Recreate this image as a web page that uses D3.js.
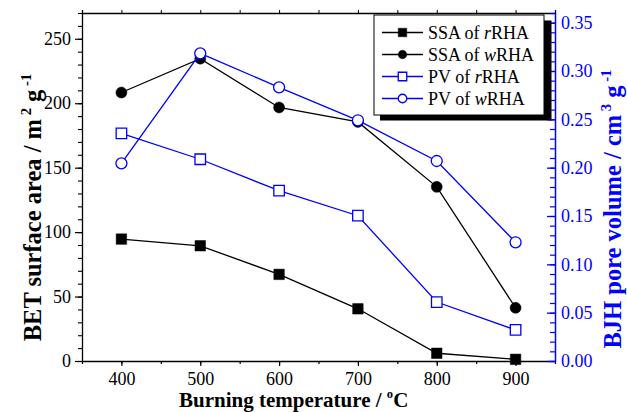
<!DOCTYPE html>
<html>
<head>
<meta charset="utf-8">
<script src="https://cdn.jsdelivr.net/npm/d3@7"></script>
<style>
  html, body { margin: 0; padding: 0; background: #fff; }
  svg { display: block; font-family: "Liberation Serif", "Times New Roman", serif; }
</style>
</head>
<body>
<svg id="chart" width="627" height="412"></svg>
<script>
// Data
const temperatures = [400, 500, 600, 700, 800, 900];
const ssaR = [94.6, 89.4, 67.2, 40.5, 6.0, 1.3];       // m2/g
const ssaW = [208.3, 234.6, 196.7, 185.5, 135.1, 41.3];
const pvR = [0.2355, 0.2087, 0.1762, 0.1503, 0.0610, 0.0321]; // cm3/g
const pvW = [0.2045, 0.3183, 0.2831, 0.2490, 0.2069, 0.1228];

const xTicks = [400, 500, 600, 700, 800, 900];
const leftTicks = [0, 50, 100, 150, 200, 250];
const rightTicks = [0, 0.05, 0.10, 0.15, 0.20, 0.25, 0.30, 0.35];

const seriesDefs = [
    { name: "SSA of ", ital: "r", tail: "RHA", values: ssaR, axis: "left", shape: "square", filled: true, color: "#000" },
    { name: "SSA of ", ital: "w", tail: "RHA", values: ssaW, axis: "left", shape: "circle", filled: true, color: "#000" },
    { name: "PV of ", ital: "r", tail: "RHA", values: pvR, axis: "right", shape: "square", filled: false, color: "#0000ff" },
    { name: "PV of ", ital: "w", tail: "RHA", values: pvW, axis: "right", shape: "circle", filled: false, color: "#0000ff" }
];

const BLUE = "#0000ff";
const margin = { top: 13, right: 72, bottom: 51, left: 82 };
const width = 627, height = 412;

const svg = d3.select("#chart");

const x = d3.scaleLinear().domain([350, 950]).range([margin.left, width - margin.right]);
const yL = d3.scaleLinear().domain([0, 270]).range([height - margin.bottom, margin.top]);
const yR = d3.scaleLinear().domain([0, 0.36]).range([height - margin.bottom, margin.top]);

const x0 = margin.left, x1 = width - margin.right;
const y0 = height - margin.bottom, y1 = margin.top;

// Minor tick helper
function ticksBetween(lo, hi, step) {
    const out = [];
    for (let v = lo; v <= hi + 1e-9; v += step) out.push(+v.toFixed(4));
    return out;
}

// Top frame with small outward ticks
const topAxis = svg.append("g").attr("transform", `translate(0,${y1})`)
    .call(d3.axisTop(x).tickValues(ticksBetween(350, 950, 50)).tickSize(3).tickFormat(""));
topAxis.select(".domain").attr("stroke", "#000").attr("stroke-width", 1.3);
topAxis.selectAll("line").attr("stroke", "#000").attr("stroke-width", 1);

// Bottom axis: minor then major
const bottomMinor = svg.append("g").attr("transform", `translate(0,${y0})`)
    .call(d3.axisBottom(x).tickValues(ticksBetween(350, 950, 50)).tickSize(3).tickFormat(""));
bottomMinor.select(".domain").remove();
bottomMinor.selectAll("line").attr("stroke", "#000").attr("stroke-width", 1.2);

const bottomAxis = svg.append("g").attr("transform", `translate(0,${y0})`)
    .call(d3.axisBottom(x).tickValues(xTicks).tickSize(5).tickSizeOuter(0).tickPadding(6));
bottomAxis.select(".domain").attr("stroke", "#000").attr("stroke-width", 1.3);
bottomAxis.selectAll("line").attr("stroke", "#000").attr("stroke-width", 1.2);
bottomAxis.selectAll("text").attr("font-size", 18).attr("font-family", "Liberation Serif, serif").attr("fill", "#000");

// Left axis
const leftMinor = svg.append("g").attr("transform", `translate(${x0},0)`)
    .call(d3.axisLeft(yL).tickValues(ticksBetween(0, 270, 10)).tickSize(4).tickFormat(""));
leftMinor.select(".domain").remove();
leftMinor.selectAll("line").attr("stroke", "#000").attr("stroke-width", 1.1);

const leftAxis = svg.append("g").attr("transform", `translate(${x0},0)`)
    .call(d3.axisLeft(yL).tickValues(leftTicks).tickSize(7).tickSizeOuter(0).tickPadding(4));
leftAxis.select(".domain").attr("stroke", "#000").attr("stroke-width", 1.3);
leftAxis.selectAll("line").attr("stroke", "#000").attr("stroke-width", 1.2);
leftAxis.selectAll("text").attr("font-size", 18).attr("font-family", "Liberation Serif, serif").attr("fill", "#000");

// Right axis (blue), ticks pointing inward
const rightMinor = svg.append("g").attr("transform", `translate(${x1},0)`)
    .call(d3.axisRight(yR).tickValues(ticksBetween(0, 0.36, 0.01)).tickSize(-5).tickFormat(""));
rightMinor.select(".domain").remove();
rightMinor.selectAll("line").attr("stroke", BLUE).attr("stroke-width", 1.2);

const rightAxis = svg.append("g").attr("transform", `translate(${x1},0)`)
    .call(d3.axisRight(yR).tickValues(rightTicks).tickSize(-8).tickSizeOuter(0)
        .tickFormat(d3.format(".2f")));
rightAxis.select(".domain").attr("stroke", BLUE).attr("stroke-width", 1.5);
rightAxis.selectAll("line").attr("stroke", BLUE).attr("stroke-width", 1.3);
rightAxis.selectAll("text").attr("font-size", 18).attr("font-family", "Liberation Serif, serif")
    .attr("fill", BLUE).attr("x", 6);

// Series
const symSquare = d3.symbol().type(d3.symbolSquare);
const symCircle = d3.symbol().type(d3.symbolCircle);

function markerPath(shape, sizePx) {
    return shape === "square"
        ? symSquare.size(sizePx * sizePx)()
        : symCircle.size(Math.PI * (sizePx / 2) * (sizePx / 2))();
}

const plot = svg.append("g");
seriesDefs.forEach(s => {
    const yScale = s.axis === "left" ? yL : yR;
    const pts = temperatures.map((t, i) => [x(t), yScale(s.values[i])]);
    plot.append("path")
        .attr("d", d3.line()(pts))
        .attr("fill", "none")
        .attr("stroke", s.color)
        .attr("stroke-width", 1.3);
    plot.selectAll(null)
        .data(pts)
        .join("path")
        .attr("transform", d => `translate(${d[0]},${d[1]})`)
        .attr("d", markerPath(s.shape, s.shape === "circle" ? 11 : 10.5))
        .attr("fill", s.filled ? s.color : "#fff")
        .attr("stroke", s.color)
        .attr("stroke-width", s.filled ? 0.5 : 1.3);
});

// Legend with drop shadow
const lg = svg.append("g");
lg.append("rect").attr("x", 380).attr("y", 20.5).attr("width", 171.5).attr("height", 100).attr("fill", "#000");
lg.append("rect").attr("x", 374).attr("y", 15).attr("width", 170).attr("height", 100)
    .attr("fill", "#fff").attr("stroke", "#000").attr("stroke-width", 1);
const rowY = [32.5, 54.5, 76.5, 98.5];
seriesDefs.forEach((s, i) => {
    const y = rowY[i];
    lg.append("line").attr("x1", 382).attr("x2", 423).attr("y1", y).attr("y2", y)
        .attr("stroke", s.color).attr("stroke-width", 1.3);
    lg.append("path").attr("transform", `translate(402.5,${y})`)
        .attr("d", markerPath(s.shape, 8.5))
        .attr("fill", s.filled ? s.color : "#fff")
        .attr("stroke", s.color).attr("stroke-width", s.filled ? 0.5 : 1.3);
    const t = lg.append("text").attr("x", 428).attr("y", y + 6).attr("font-size", 18).attr("fill", "#000");
    t.append("tspan").text(s.name);
    t.append("tspan").attr("font-style", "italic").text(s.ital);
    t.append("tspan").text(s.tail);
});

// Axis titles
function addSup(t, txt, fs) {
    t.append("tspan").attr("dy", -fs * 0.42).attr("font-size", fs * 0.6).text(txt);
}
function back(t, txt, fs) {
    t.append("tspan").attr("dy", fs * 0.42).text(txt);
}

const fsX = 21;
const xt = svg.append("text").attr("x", 179).attr("y", 407)
    .attr("font-size", fsX).attr("font-weight", "bold").attr("fill", "#000");
xt.append("tspan").text("Burning temperature / ");
addSup(xt, "o", fsX);
back(xt, "C", fsX);

const fsY = 24.5;
const lt = svg.append("text").attr("transform", "translate(41,207.5) rotate(-90)")
    .attr("text-anchor", "middle").attr("font-size", fsY).attr("font-weight", "bold").attr("fill", "#000");
lt.append("tspan").text("BET surface area / m");
addSup(lt, " 2", fsY);
back(lt, " g", fsY);
addSup(lt, " -1", fsY);

const rt = svg.append("text").attr("transform", "translate(621,209) rotate(-90)")
    .attr("text-anchor", "middle").attr("font-size", fsY).attr("font-weight", "bold").attr("fill", BLUE);
rt.append("tspan").text("BJH pore volume / cm");
addSup(rt, " 3", fsY);
back(rt, " g", fsY);
addSup(rt, " -1", fsY);
</script>
</body>
</html>
